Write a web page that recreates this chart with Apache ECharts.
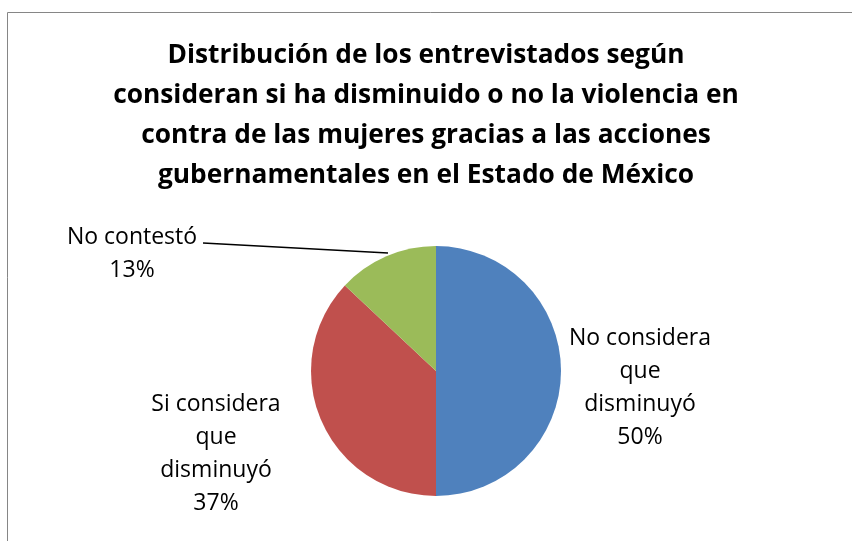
<!DOCTYPE html>
<html><head><meta charset="utf-8">
<script src="https://cdn.jsdelivr.net/npm/echarts@6/dist/echarts.min.js"></script>
<style>html,body{margin:0;padding:0;background:#fff}#c{width:852px;height:541px}</style>
</head><body><div id="c"></div>
<script>
const titleText = 'Distribución de los entrevistados según\nconsideran si ha disminuido o no la violencia en\ncontra de las mujeres gracias a las acciones\ngubernamentales en el Estado de México';
const categories = ['No considera\nque\ndisminuyó', 'Si considera\nque\ndisminuyó', 'No contestó'];
const values = [50, 37, 13];
const colors = ['#4F81BD', '#C0504D', '#9BBB59'];

const chart = echarts.init(document.getElementById('c'));
const labelPos = [
  {x: 640, y: 388},
  {x: 216, y: 454},
  {x: 132, y: 254}
];
chart.setOption({
  animation: false,
  graphic: [{
    type: 'rect', shape: {x: 7.5, y: 12.5, width: 900, height: 600},
    style: {fill: 'none', stroke: '#868686', lineWidth: 1}, silent: true, z: -1
  }],
  title: {
    text: titleText, left: 'center', top: 31,
    textStyle: {fontFamily: 'Open Sans', fontWeight: 'bold', fontSize: 26.3, lineHeight: 40, color: '#000'}
  },
  series: [{
    type: 'pie',
    center: [436, 371],
    radius: 125,
    startAngle: 90,
    clockwise: true,
    data: categories.map((c, i) => ({name: c, value: values[i], itemStyle: {color: colors[i]}})),
    itemStyle: {borderColor: '#fff', borderWidth: 0},
    label: {
      show: true,
      formatter: p => p.name + '\n' + p.value + '%',
      fontFamily: 'Open Sans', fontSize: 23, lineHeight: 33, color: '#000', align: 'center'
    },
    labelLine: {show: true, lineStyle: {color: '#000', width: 1.5}},
    labelLayout: function (params) {
      const i = params.dataIndex;
      const r = {x: labelPos[i].x, y: labelPos[i].y, align: 'center', verticalAlign: 'middle'};
      if (i === 2) {
        r.labelLinePoints = [[203, 243], [203, 243], [388, 253]];
      } else {
        r.labelLinePoints = [[0,0],[0,0],[0,0]];
      }
      return r;
    }
  }]
});
</script></body></html>
